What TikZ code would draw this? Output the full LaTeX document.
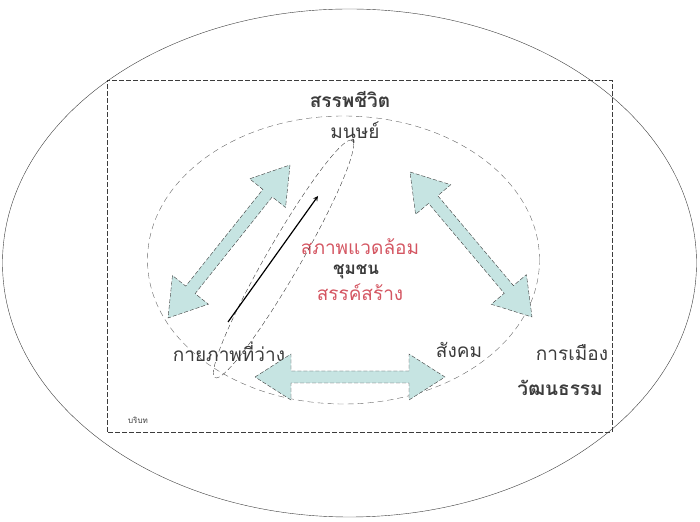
\documentclass[tikz,border=0pt]{standalone}
\usepackage{fontspec}
\newfontfamily\thaifont[Script=Thai]{Loma}
\usetikzlibrary{calc}
\definecolor{arrowfill}{RGB}{198,228,226}
\definecolor{envred}{RGB}{212,86,98}
\definecolor{inkgray}{RGB}{60,60,60}
% a fat double arrow with a dashed outline, from coordinate #1 to coordinate #2
\newcommand{\fatarrow}[2]{%
  \coordinate (#1-h) at ($(#1)!36pt!(#2)$);
  \coordinate (#2-h) at ($(#2)!36pt!(#1)$);
  \draw[fatarrow] (#1) -- ($(#1-h)!23pt!90:(#2)$) -- ($(#1-h)!6pt!90:(#2)$)
    -- ($(#2-h)!6pt!-90:(#1)$) -- ($(#2-h)!23pt!-90:(#1)$) -- (#2)
    -- ($(#2-h)!23pt!90:(#1)$) -- ($(#2-h)!6pt!90:(#1)$)
    -- ($(#1-h)!6pt!-90:(#2)$) -- ($(#1-h)!23pt!-90:(#2)$) -- cycle;}

\begin{document}
\begin{tikzpicture}[>=stealth, x=1pt, y=1pt, font={\thaifont\fontsize{19}{21}\selectfont},
  fatarrow/.style={fill=arrowfill, draw=inkgray, dash pattern=on 4pt off 2pt, thin},
  label/.style={inner sep=1pt, text=inkgray}]
  \useasboundingbox (0,0) rectangle (700,521);
  % the whole: all living things
  \draw[inkgray, thin] (349.5,258) ellipse [x radius=347, y radius=254];
  \draw[dash pattern=on 5pt off 2pt, thin, inkgray] (107,89) rectangle (612,441);
  \node[label, font={\thaifont\bfseries\fontsize{19}{21}\selectfont}] (all) at (350,421) {สรรพชีวิต};
  \node[label, font={\thaifont\fontsize{8}{9}\selectfont}] (ctx) at (138,101) {บริบท};
  % the environment ring
  \draw[dash pattern=on 6pt off 4pt, gray!80!black] (343.5,261) ellipse [x radius=196, y radius=144];
  \node[label] (human) at (355,388) {มนุษย์};
  \node[label, text=envred] (env) at (360,274) {สภาพแวดล้อม};
  \node[label, font={\thaifont\bfseries\fontsize{17}{19}\selectfont}] (comm) at (356,249) {ชุมชน};
  \node[label, text=envred] (make) at (360,229) {สรรค์สร้าง};
  \node[label] (space) at (229,169) {กายภาพที่ว่าง};
  \node[label] (soc) at (459,171) {สังคม};
  \node[label] (pol) at (572,168) {การเมือง};
  \node[label, font={\thaifont\bfseries\fontsize{19}{21}\selectfont}] (cult) at (560,133) {วัฒนธรรม};
  % the link from space up to human
  \draw[dash pattern=on 5pt off 3pt, thin, inkgray, rotate around={60:(283.5,262)}] (283.5,262) ellipse [x radius=137, y radius=17];
  \coordinate (up0) at (228,199);
  \coordinate (up1) at (318,325);
  \draw[->, very thick] (up0) -- (up1);
  % the three exchanges
  \coordinate (l0) at (290,356);
  \coordinate (l1) at (168,203);
  \coordinate (r0) at (410,349);
  \coordinate (r1) at (532,204);
  \coordinate (b0) at (255,144);
  \coordinate (b1) at (445,144);
  \fatarrow{l0}{l1}
  \fatarrow{r0}{r1}
  \fatarrow{b0}{b1}
\end{tikzpicture}
\end{document}
